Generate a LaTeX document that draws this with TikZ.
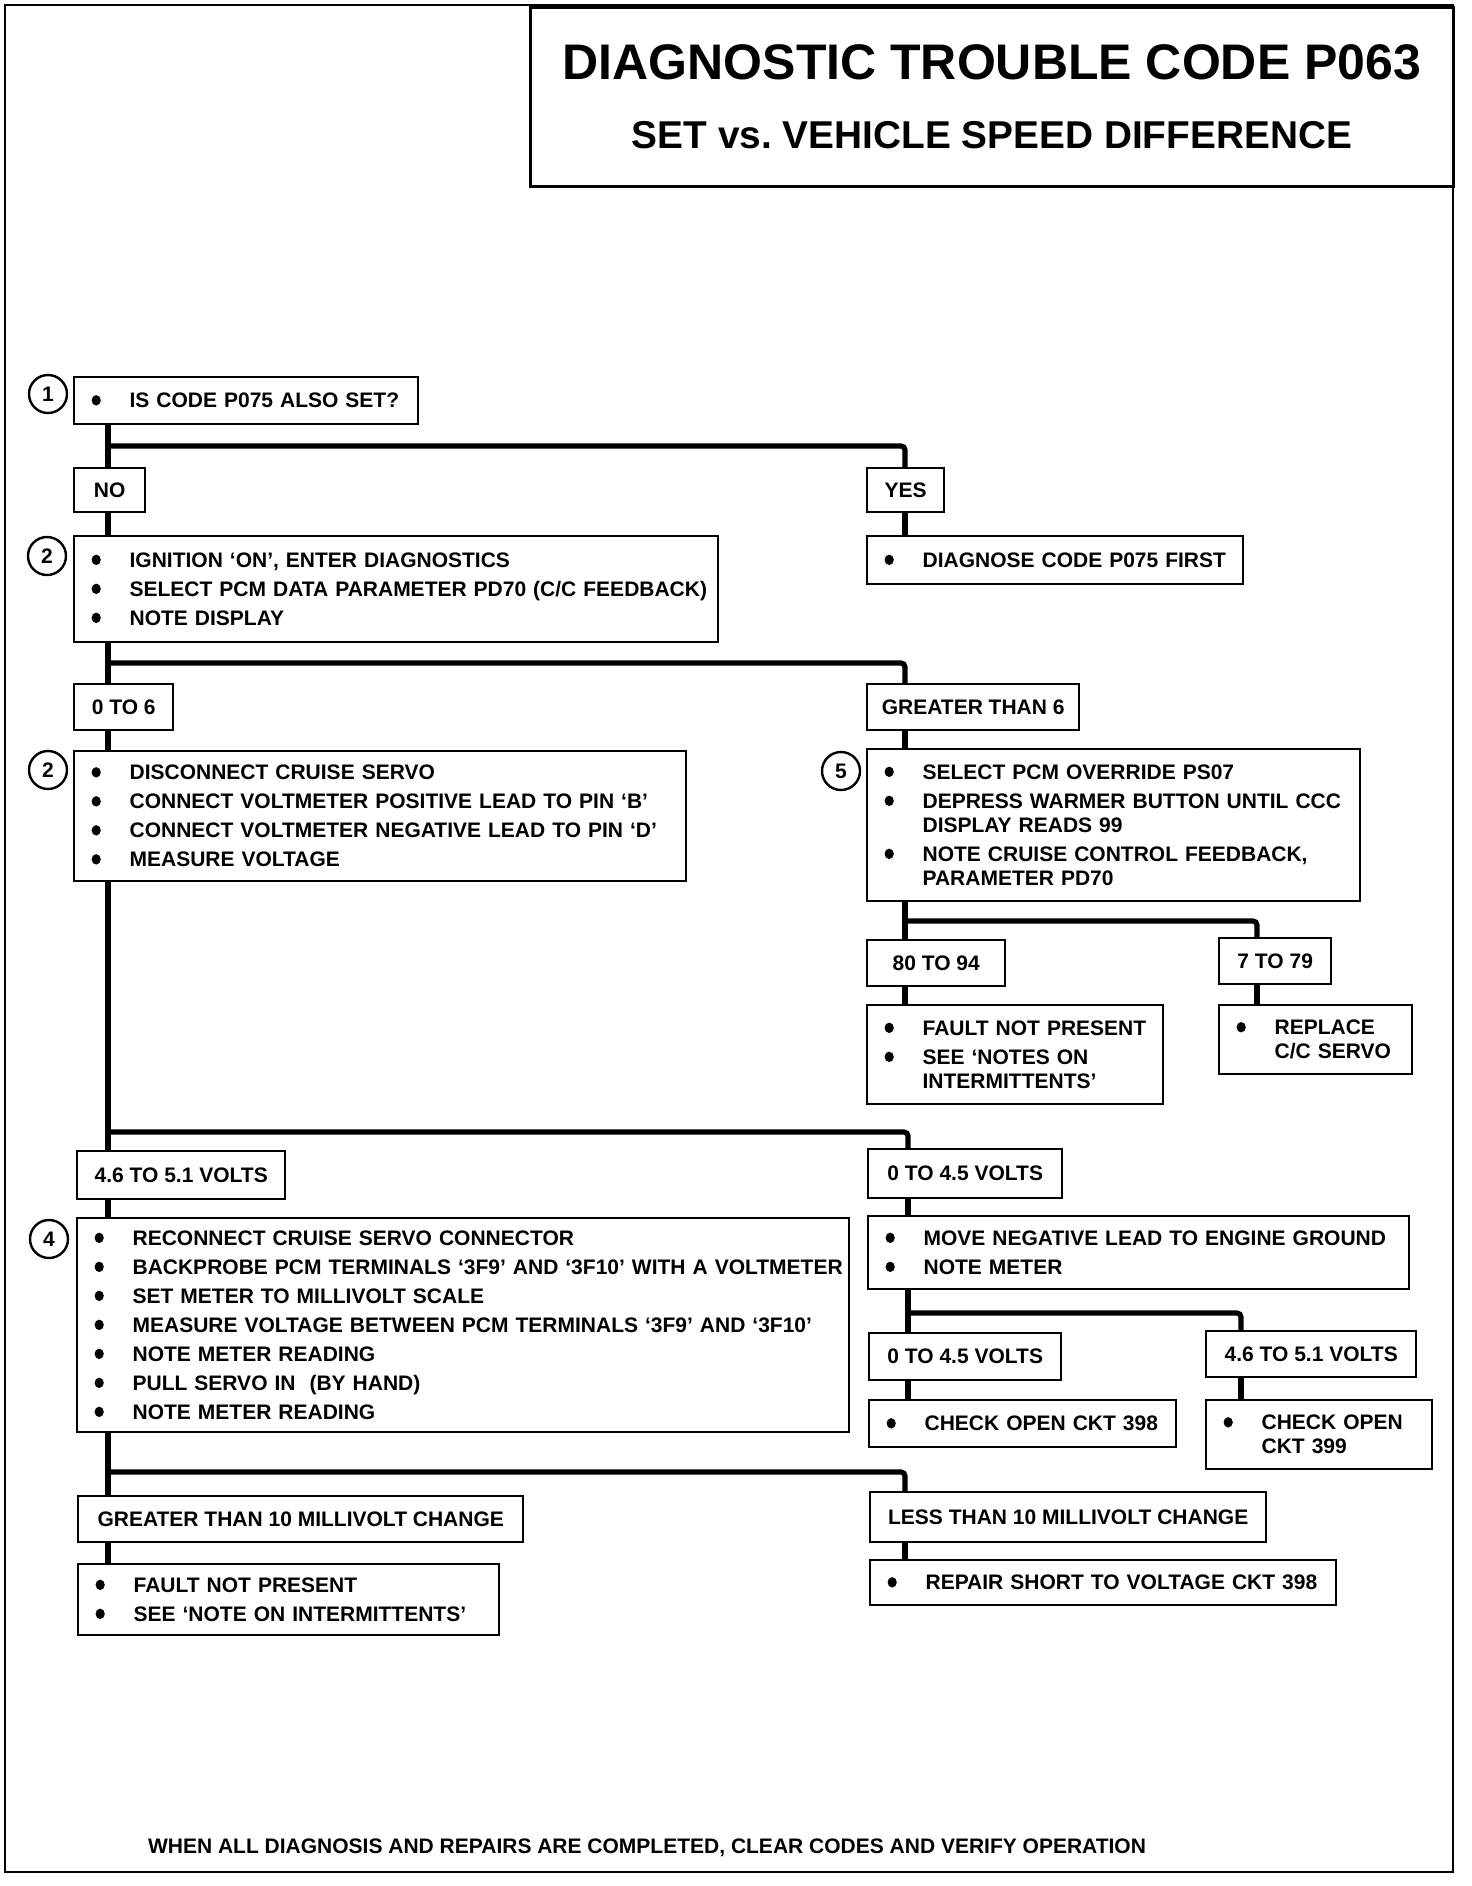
\documentclass[tikz,border=0pt]{standalone}
\usepackage{fontspec}
\setmainfont{Liberation Sans}
\usetikzlibrary{positioning,calc}

\newcommand{\dotmark}{\tikz[baseline=0pt]\fill (2.3pt,3.8pt) ellipse (2.3pt and 2.6pt);}
\newcommand{\bu}[1]{\mbox{\makebox[19pt][l]{\dotmark}#1}}
\newcommand{\nx}[1]{\mbox{\hspace*{19pt}#1}}
\newcommand{\boxfont}{\fontsize{10.5pt}{12pt}\selectfont\bfseries}

\tikzset{
  frame/.style={draw,line width=1.4pt},
  box/.style={draw,line width=1.2pt,fill=white,anchor=north west,
    inner xsep=8.7pt,inner ysep=0pt,align=left,font=\boxfont},
  lbl/.style={draw,line width=1.2pt,fill=white,anchor=north west,
    inner sep=0pt,align=center,font=\boxfont},
  num/.style={draw,circle,line width=1.2pt,minimum size=19pt,inner sep=0pt,font=\boxfont},
  conn/.style={line width=2.6pt,rounded corners=2pt},
}

\begin{document}
\begin{tikzpicture}[x=0.5pt,y=-0.5pt]
  \useasboundingbox (0,0) rectangle (1472,1886);
  \draw[frame] (5,5) rectangle (1453,1872);
  \node[frame,anchor=north west,minimum width=461.5pt,minimum height=89.5pt,align=center,
    font=\fontsize{19.4pt}{34.75pt}\selectfont\bfseries] (title) at (529,6)
    {{\fontsize{25pt}{30pt}\selectfont DIAGNOSTIC TROUBLE CODE P063}\\SET vs.\ VEHICLE SPEED DIFFERENCE};

  % trunks and branch levels
  \coordinate (tl) at (108,0);
  \coordinate (tr) at (905,0);
  \coordinate (tr2) at (1257,0);
  \coordinate (tr3) at (1241,0);
  \coordinate (b1) at (0,446);
  \coordinate (b2) at (0,663);
  \coordinate (b3) at (0,921);
  \coordinate (b4) at (0,1132);
  \coordinate (b5) at (0,1313);
  \coordinate (b6) at (0,1472);

  % step 1
  \node[box,text width=154.6pt,minimum height=23.5pt] (q1) at (73,376) {\bu{IS CODE P075 ALSO SET?}};
  \node[num] (c1) at (48,394) {1};
  \node[lbl,minimum width=35.5pt,minimum height=22pt] (no) at (73,467) {NO};
  \node[lbl,minimum width=38.5pt,minimum height=22pt] (yes) at (866,467) {YES};

  % step 2
  \node[box,text width=304.6pt,minimum height=53pt] (s2) at (73,535)
    {\bu{IGNITION `ON', ENTER DIAGNOSTICS}\\[2.5pt]%
     \bu{SELECT PCM DATA PARAMETER PD70 (C/C FEEDBACK)}\\[2.5pt]%
     \bu{NOTE DISPLAY}};
  \node[num] (c2) at (47,556) {2};
  \node[box,text width=170.6pt,minimum height=24pt] (diag) at (866,535) {\bu{DIAGNOSE CODE P075 FIRST}};
  \node[lbl,minimum width=49.5pt,minimum height=23pt] (z6) at (73,683) {0 TO 6};
  \node[lbl,minimum width=106pt,minimum height=23pt] (gt6) at (866,683) {GREATER THAN 6};

  % step 3 / 5
  \node[box,text width=288.6pt,minimum height=65pt] (s3) at (73,750)
    {\bu{DISCONNECT CRUISE SERVO}\\[2.5pt]%
     \bu{CONNECT VOLTMETER POSITIVE LEAD TO PIN `B'}\\[2.5pt]%
     \bu{CONNECT VOLTMETER NEGATIVE LEAD TO PIN `D'}\\[2.5pt]%
     \bu{MEASURE VOLTAGE}};
  \node[num] (c3) at (48,770) {2};
  \node[box,text width=229.1pt,minimum height=76pt] (s5) at (866,748)
    {\bu{SELECT PCM OVERRIDE PS07}\\[2.5pt]%
     \bu{DEPRESS WARMER BUTTON UNTIL CCC}\\\nx{DISPLAY READS 99}\\[2.5pt]%
     \bu{NOTE CRUISE CONTROL FEEDBACK,}\\\nx{PARAMETER PD70}};
  \node[num] (c5) at (841,771) {5};
  \node[lbl,minimum width=69pt,minimum height=23pt] (r80) at (866,939) {80 TO 94};
  \node[lbl,minimum width=56pt,minimum height=23pt] (r7) at (1218,937) {7 TO 79};
  \node[box,text width=130.6pt,minimum height=49.5pt] (fnp1) at (866,1004)
    {\bu{FAULT NOT PRESENT}\\[2.5pt]%
     \bu{SEE `NOTES ON}\\\nx{INTERMITTENTS'}};
  \node[box,text width=79.1pt,minimum height=34.5pt] (repl) at (1218,1004)
    {\bu{REPLACE}\\\nx{C/C SERVO}};

  % step 4
  \node[lbl,minimum width=104pt,minimum height=24pt] (v46a) at (76,1150) {4.6 TO 5.1 VOLTS};
  \node[lbl,minimum width=97pt,minimum height=24.5pt] (v045a) at (867,1148) {0 TO 4.5 VOLTS};
  \node[box,text width=368.6pt,minimum height=107pt] (s4) at (76,1217)
    {\bu{RECONNECT CRUISE SERVO CONNECTOR}\\[2.5pt]%
     \bu{BACKPROBE PCM TERMINALS `3F9' AND `3F10' WITH A VOLTMETER}\\[2.5pt]%
     \bu{SET METER TO MILLIVOLT SCALE}\\[2.5pt]%
     \bu{MEASURE VOLTAGE BETWEEN PCM TERMINALS `3F9' AND `3F10'}\\[2.5pt]%
     \bu{NOTE METER READING}\\[2.5pt]%
     \bu{PULL SERVO IN\ \ (BY HAND)}\\[2.5pt]%
     \bu{NOTE METER READING}};
  \node[num] (c4) at (49,1239) {4};
  \node[box,text width=253.1pt,minimum height=36.5pt] (move) at (867,1215)
    {\bu{MOVE NEGATIVE LEAD TO ENGINE GROUND}\\[2.5pt]%
     \bu{NOTE METER}};
  \node[lbl,minimum width=96pt,minimum height=23.5pt] (v045b) at (868,1332) {0 TO 4.5 VOLTS};
  \node[lbl,minimum width=105pt,minimum height=23pt] (v46b) at (1205,1330) {4.6 TO 5.1 VOLTS};
  \node[box,text width=136.1pt,minimum height=23.5pt] (ck398) at (868,1399) {\bu{CHECK OPEN CKT 398}};
  \node[box,text width=95.6pt,minimum height=34.5pt] (ck399) at (1205,1399)
    {\bu{CHECK OPEN}\\\nx{CKT 399}};
  \node[lbl,minimum width=222.5pt,minimum height=23pt] (gt10) at (77,1495) {GREATER THAN 10 MILLIVOLT CHANGE};
  \node[lbl,minimum width=198pt,minimum height=25pt] (lt10) at (869,1491) {LESS THAN 10 MILLIVOLT CHANGE};
  \node[box,text width=193.1pt,minimum height=35.5pt] (fnp2) at (77,1563)
    {\bu{FAULT NOT PRESENT}\\[2.5pt]%
     \bu{SEE `NOTE ON INTERMITTENTS'}};
  \node[box,text width=215.6pt,minimum height=22.5pt] (rep) at (869,1559) {\bu{REPAIR SHORT TO VOLTAGE CKT 398}};

  \node[anchor=west,font=\boxfont] (foot) at (141,1848)
    {WHEN ALL DIAGNOSIS AND REPAIRS ARE COMPLETED, CLEAR CODES AND VERIFY OPERATION};

  % connectors
  \draw[conn] (tl|-q1.south) -- (tl|-no.north);
  \draw[conn] (tl|-b1) -| (tr|-yes.north);
  \draw[conn] (tl|-no.south) -- (tl|-s2.north);
  \draw[conn] (tr|-yes.south) -- (tr|-diag.north);
  \draw[conn] (tl|-s2.south) -- (tl|-z6.north);
  \draw[conn] (tl|-b2) -| (tr|-gt6.north);
  \draw[conn] (tl|-z6.south) -- (tl|-s3.north);
  \draw[conn] (tr|-gt6.south) -- (tr|-s5.north);
  \draw[conn] (tr|-s5.south) -- (tr|-r80.north);
  \draw[conn] (tr|-b3) -| (tr2|-r7.north);
  \draw[conn] (tr|-r80.south) -- (tr|-fnp1.north);
  \draw[conn] (tr2|-r7.south) -- (tr2|-repl.north);
  \draw[conn] (tl|-s3.south) -- (tl|-v46a.north);
  \draw[conn] (tl|-b4) -| ([xshift=1.5pt]tr|-v045a.north);
  \draw[conn] (tl|-v46a.south) -- (tl|-s4.north);
  \draw[conn] ([xshift=1.5pt]tr|-v045a.south) -- ([xshift=1.5pt]tr|-move.north);
  \draw[conn] ([xshift=1.5pt]tr|-move.south) -- ([xshift=1.5pt]tr|-v045b.north);
  \draw[conn] ([xshift=1.5pt]tr|-b5) -| (tr3|-v46b.north);
  \draw[conn] ([xshift=1.5pt]tr|-v045b.south) -- ([xshift=1.5pt]tr|-ck398.north);
  \draw[conn] (tr3|-v46b.south) -- (tr3|-ck399.north);
  \draw[conn] (tl|-s4.south) -- (tl|-gt10.north);
  \draw[conn] (tl|-b6) -| (tr|-lt10.north);
  \draw[conn] (tl|-gt10.south) -- (tl|-fnp2.north);
  \draw[conn] (tr|-lt10.south) -- (tr|-rep.north);
\end{tikzpicture}
\end{document}
